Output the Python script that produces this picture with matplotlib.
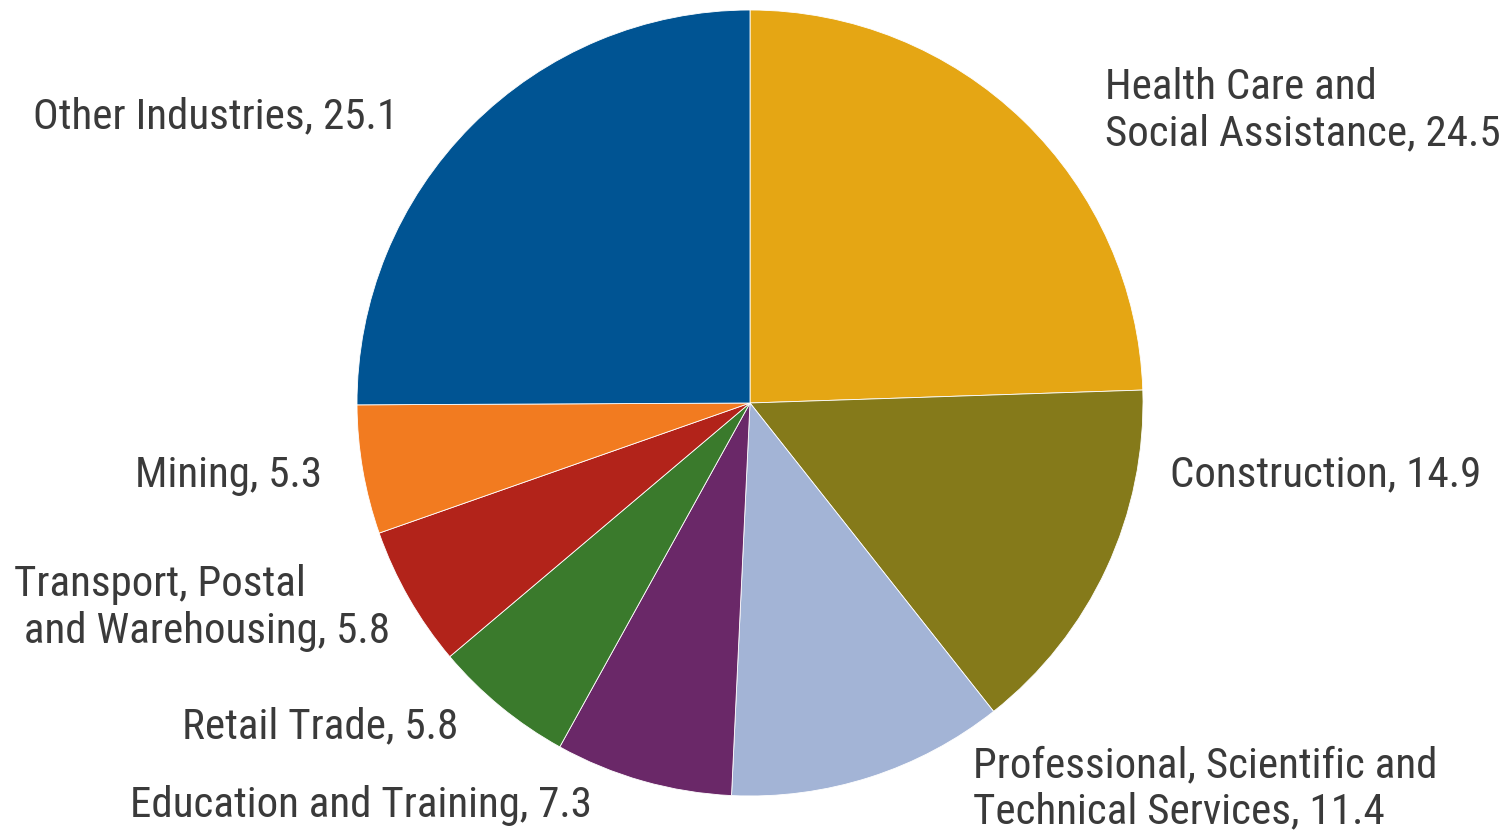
import os
import matplotlib.pyplot as plt
from matplotlib import font_manager

# shares of total, clockwise from 12 o'clock
industries = ['Health Care and Social Assistance', 'Construction',
              'Professional, Scientific and Technical Services',
              'Education and Training', 'Retail Trade',
              'Transport, Postal and Warehousing', 'Mining', 'Other Industries']
shares = [24.5, 14.9, 11.4, 7.3, 5.8, 5.8, 5.3, 25.1]
colors = ['#E5A614', '#857A1A', '#A3B4D6', '#6A2868', '#3A7A2C',
          '#B2231A', '#F27B20', '#005493']

label_text = ['Health Care and\nSocial Assistance, 24.5', 'Construction, 14.9',
              'Professional, Scientific and\nTechnical Services, 11.4',
              'Education and Training, 7.3', 'Retail Trade, 5.8',
              'Transport, Postal\n and Warehousing, 5.8', 'Mining, 5.3',
              'Other Industries, 25.1']

# narrow sans face, close to the condensed grotesque in the original
narrow = None
for f in font_manager.fontManager.ttflist:
    if os.path.basename(f.fname) == 'RobotoCondensed-Regular.ttf':
        narrow = f.fname
        break

W, H = 1506, 834
fig = plt.figure(figsize=(W / 100, H / 100), dpi=100)
ax = fig.add_axes([0, 0, 1, 1])

ax.pie(shares, colors=colors, startangle=90, counterclock=False,
       center=(750, H - 403), radius=393, frame=True,
       wedgeprops=dict(edgecolor='white', linewidth=0.6))
ax.set_xlim(0, W)
ax.set_ylim(0, H)
ax.set_aspect('equal')
ax.axis('off')

# label anchor points (left edge, pixel row from top)
label_pos = [(1105, 111), (1170, 475), (973, 789), (130, 805),
             (182, 727), (14, 608), (135, 475), (33, 117)]

if narrow:
    fp = font_manager.FontProperties(fname=narrow, size=31)
else:
    fp = font_manager.FontProperties(family='DejaVu Sans', size=26, stretch='condensed')

for txt, (x, y) in zip(label_text, label_pos):
    ax.text(x, H - y, txt, ha='left', va='center', fontproperties=fp,
            color='#3a3a3a', linespacing=1.17)

fig.savefig('out.png', dpi=100)
